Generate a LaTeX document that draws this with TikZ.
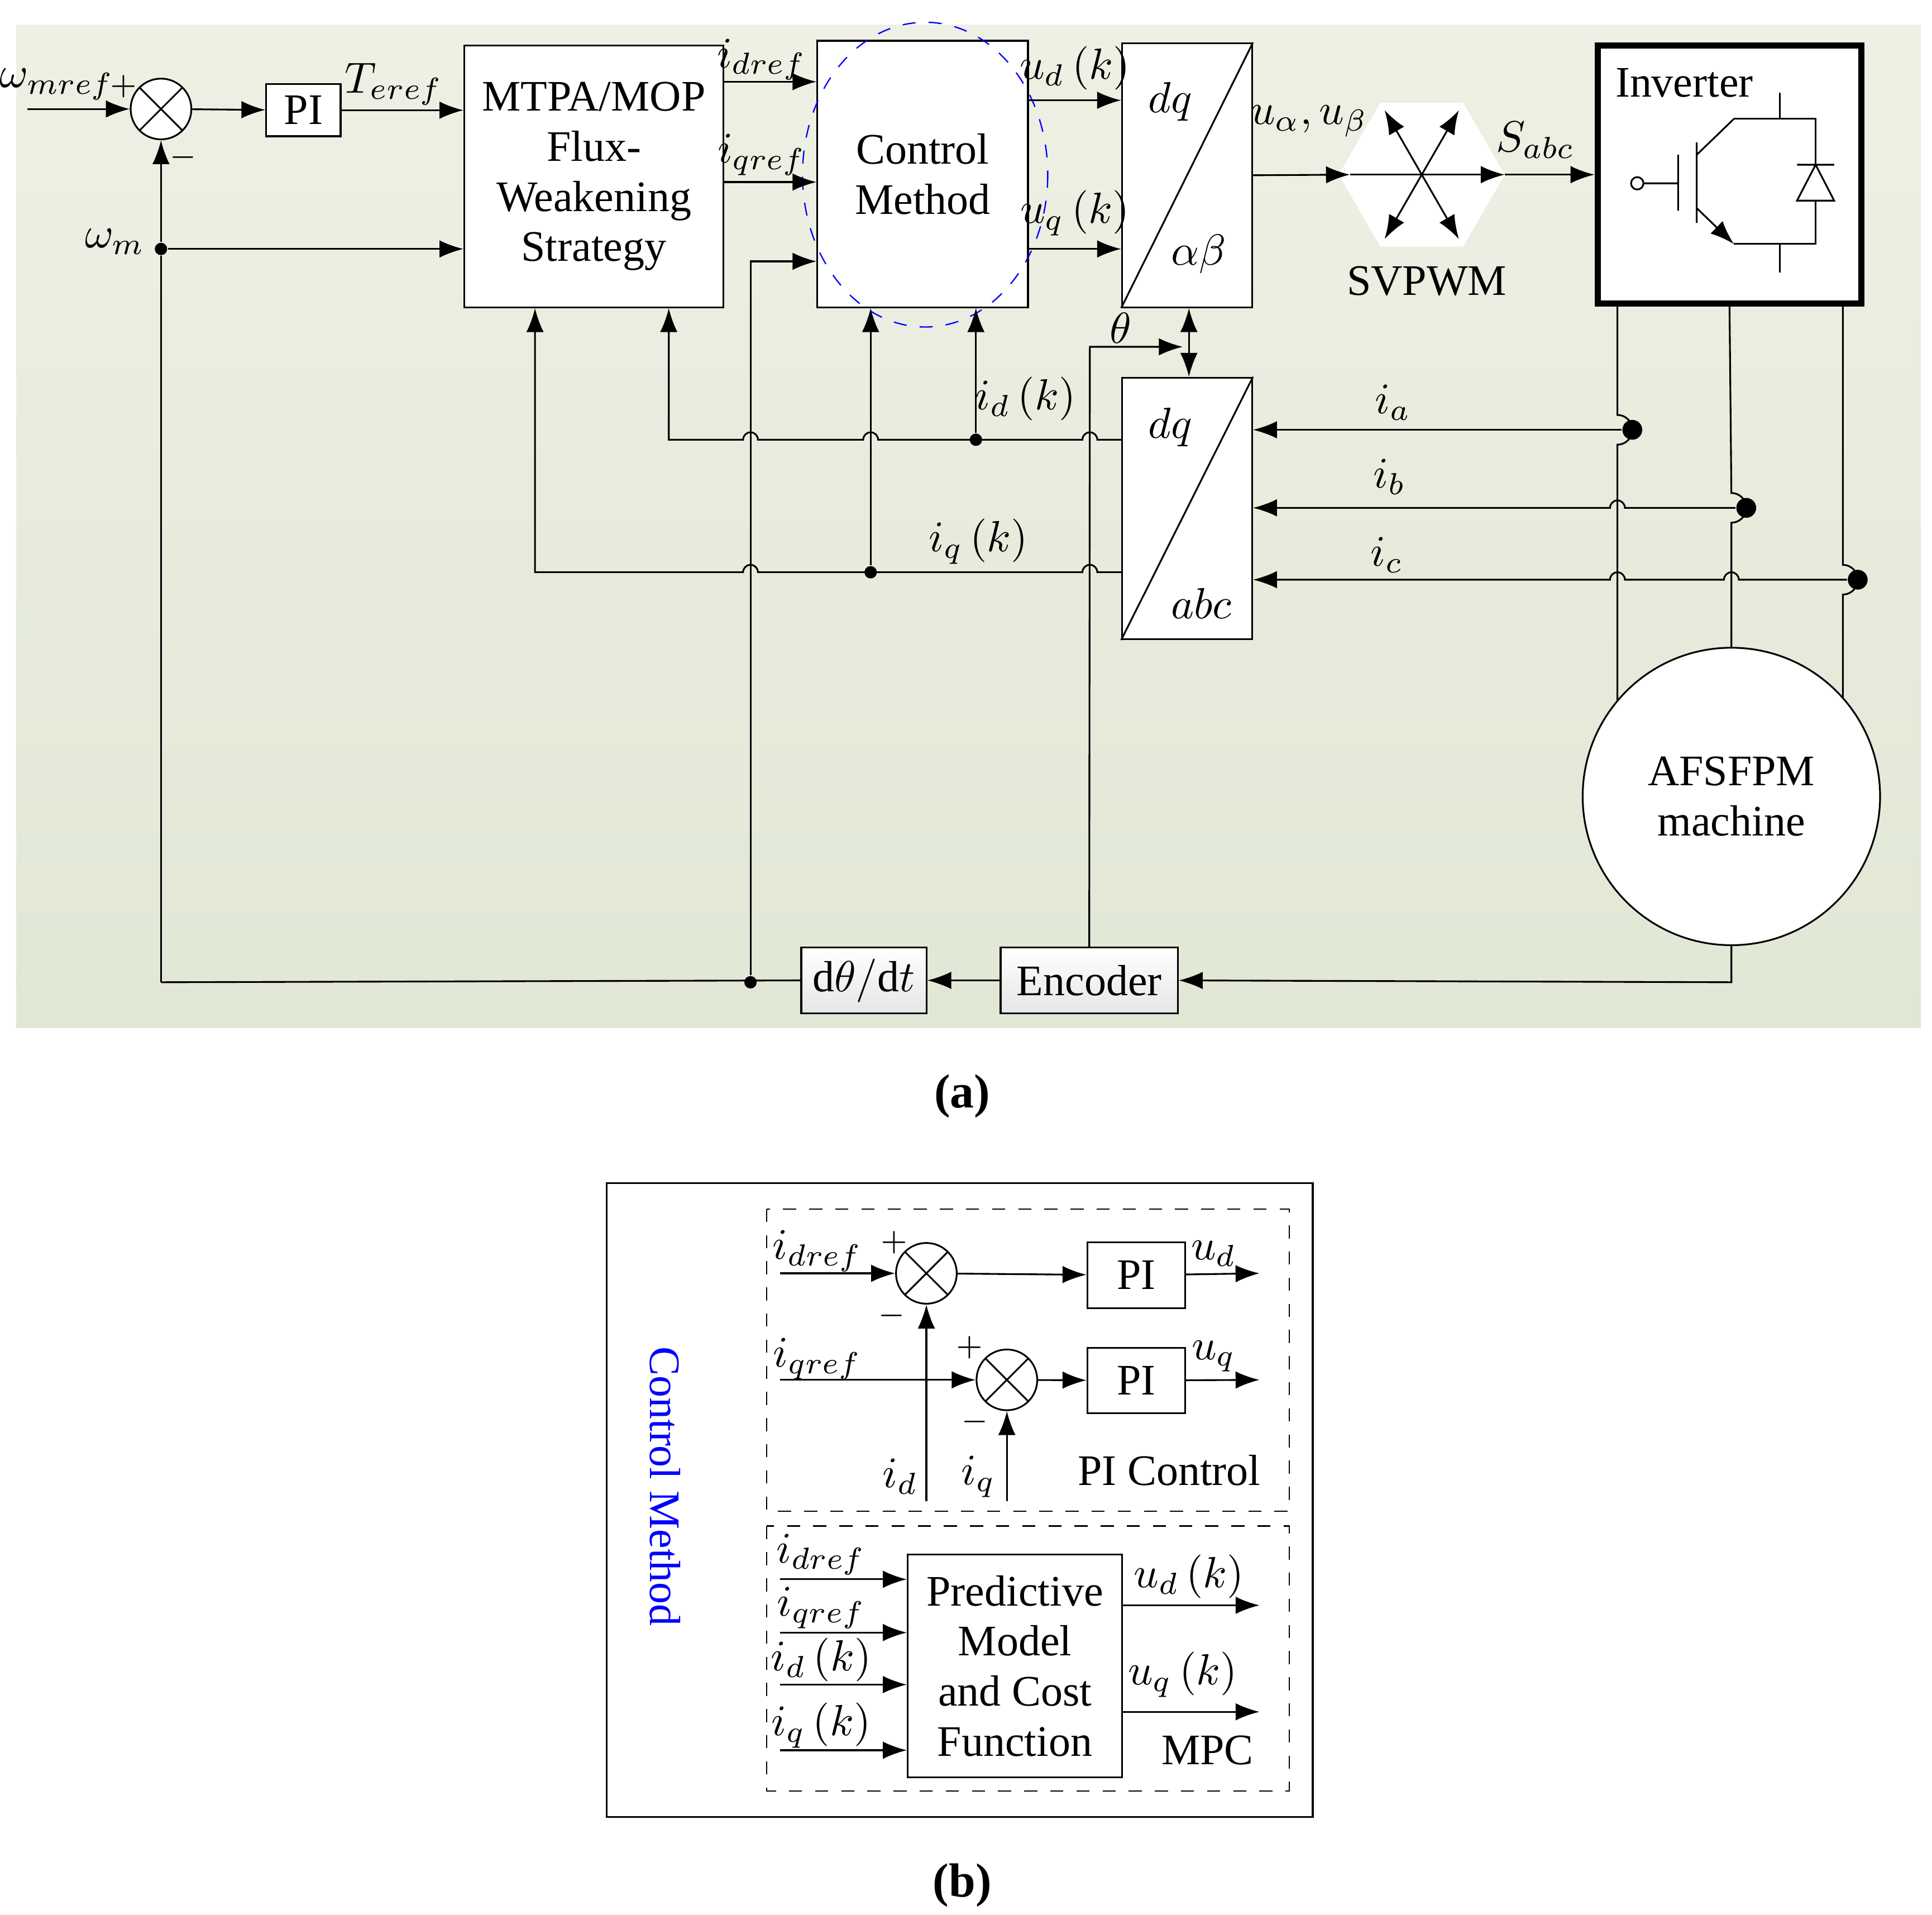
\documentclass[tikz,border=0pt]{standalone}
\usepackage{fontspec}
\setmainfont{Liberation Serif}
\usetikzlibrary{arrows.meta,calc}

\definecolor{bgtop}{RGB}{238,240,228}
\definecolor{bgbot}{RGB}{225,231,213}
\tikzset{
  blk/.style={draw,fill=white,inner sep=0pt,align=center},
  sum/.style={draw,fill=white,circle,minimum size=0.49cm,inner sep=0pt,path picture={
      \draw (path picture bounding box.north west)--(path picture bounding box.south east)
            (path picture bounding box.north east)--(path picture bounding box.south west);}},
  dot/.style={fill,circle,inner sep=0pt,minimum size=0.1cm},
  bigdot/.style={fill,circle,inner sep=0pt,minimum size=0.16cm},
  lbl/.style={inner sep=1pt},
}

\begin{document}
\begin{tikzpicture}[x=0.01cm,y=-0.01cm,line width=0.4pt,>={Latex[length=5.5pt,width=4pt]},
  font=\fontsize{10}{11.5}\selectfont]
\useasboundingbox (0,0) rectangle (1560,1546);
\shade[top color=bgtop,bottom color=bgbot] (13,20) rectangle (1551,830);

% part (a) blocks
\node[sum] (s1) at (130,88) {};
\node[blk,minimum width=0.60cm,minimum height=0.42cm] (pi1) at (245,89) {PI};
\node[blk,minimum width=2.09cm,minimum height=2.11cm] (mtpa) at (479.5,142.5) {MTPA/MOP\\Flux-\\Weakening\\Strategy};
\node[blk,minimum width=1.70cm,minimum height=2.15cm] (ctrl) at (745,140.5) {Control\\Method};
\draw[blue,dashed,line width=0.3pt] (747,141) ellipse[x radius=99,y radius=123];
\node[blk,minimum width=1.05cm,minimum height=2.13cm] (dqab) at (958.5,141.5) {};
\draw (dqab.north east) -- (dqab.south west);
\node[blk,minimum width=1.05cm,minimum height=2.11cm] (dqabc) at (958.5,410.5) {};
\draw (dqabc.north east) -- (dqabc.south west);
\node[blk,line width=1.4pt,minimum width=2.13cm,minimum height=2.08cm] (inv) at (1396.5,141) {};
\node[blk,top color=white,bottom color=gray!20,minimum width=1.43cm,minimum height=0.53cm] (enc) at (879.5,791.5) {Encoder};
\node[blk,top color=white,bottom color=gray!20,minimum width=1.01cm,minimum height=0.53cm] (ddt) at (697.5,791.5) {$\mathrm{d}\theta/\mathrm{d}t$};
\node[draw,fill=white,circle,minimum size=2.4cm,align=center] (mach) at (1398,643) {AFSFPM\\machine};

% svpwm
\coordinate (sv) at (1148,141);
\fill[white] (1215,141)--(1181.5,83)--(1114.5,83)--(1081,141)--(1114.5,199)--(1181.5,199)--cycle;
\draw[<->] (1118,89) -- (1178,193);
\draw[<->] (1178,89) -- (1118,193);
\draw[->] (1090,141) -- (1215,141);
\node at (1152,227) {SVPWM};

% inverter switch
\draw (1437,75)--(1437,96) (1400,96)--(1466,96)--(1466,197)--(1400,197) (1437,197)--(1437,220);
\draw (1400,96)--(1370,125) (1370,115)--(1370,180) (1355,125)--(1355,170) (1327,148)--(1355,148);
\draw[->] (1370,168)--(1400,197);
\draw (1322,148) circle[radius=5];
\fill[white] (1451,162)--(1481,162)--(1466,133)--cycle;
\draw (1451,162)--(1481,162)--(1466,133)--cycle (1451,133)--(1481,133);
\node[lbl] at (1360,67) {Inverter};

% labels (a)
\node[lbl] at (46,68) {$\omega_{mref}$};
\node[lbl,font=\scriptsize] at (100,70) {$+$};
\node[lbl,font=\scriptsize] at (148,127) {$-$};
\node[lbl] at (318,68) {$T_{eref}$};
\node[lbl] at (93,195) {$\omega_{m}$};
\node[lbl] at (615,48) {$i_{dref}$};
\node[lbl] at (615,125) {$i_{qref}$};
\node[lbl] at (868,55) {$u_d\,(k)$};
\node[lbl] at (868,172) {$u_q\,(k)$};
\node[lbl] at (945,82) {$dq$};
\node[lbl] at (968,205) {$\alpha\beta$};
\node[lbl] at (945,345) {$dq$};
\node[lbl] at (970,487) {$abc$};
\node[lbl] at (1057,98) {$u_\alpha,u_\beta$};
\node[lbl] at (1240,113) {$S_{abc}$};
\node[lbl] at (905,265) {$\theta$};
\node[lbl] at (828,322) {$i_d\,(k)$};
\node[lbl] at (790,437) {$i_q\,(k)$};
\node[lbl] at (1125,325) {$i_a$};
\node[lbl] at (1122,385) {$i_b$};
\node[lbl] at (1120,448) {$i_c$};

% connectors (a)
\draw[->] (22,88) -- (s1);
\draw[->] (s1) -- (pi1);
\draw[->] (pi1) -- (mtpa.west |- pi1);
\node[dot] (wm) at (130,201) {};
\draw[->] (wm) -- (mtpa.west |- wm);
\draw[->] (130,793) -- (wm) -- (s1);
\draw[->] (mtpa.east |- 0,66) -- (ctrl.west |- 0,66);
\draw[->] (mtpa.east |- 0,147) -- (ctrl.west |- 0,147);
\node[dot] (wd) at (606,793) {};
\draw[->] (wd) -- (606,211) -- (ctrl.west |- 0,211);
\draw[->] (ctrl.east |- 0,81) -- (dqab.west |- 0,81);
\draw[->] (ctrl.east |- 0,201) -- (dqab.west |- 0,201);
\draw[->] (dqab.east) -- (1090,141);
\draw[->] (1215,141) -- (inv.west);
\draw[<->] (dqab.south -| 960,0) -- (dqabc.north -| 960,0);
\draw[->] (enc.north) -- (880,280) -- (955,280);
\draw (ddt.west) -- (130,793);
\draw[->] (enc) -- (ddt);
\draw[->] (mach.south) -- (1398,793) -- (enc.east);

% feedback id, iq with hops
\node[dot] (idk) at (788,355) {};
\node[dot] (iqk) at (703,462) {};
\draw[->] (dqabc.west |- 0,355) -- (886,355) arc[start angle=0,end angle=-180,radius=6]
  -- (709,355) arc[start angle=0,end angle=-180,radius=6]
  -- (612,355) arc[start angle=0,end angle=-180,radius=6]
  -- (540,355) -- (mtpa.south -| 540,0);
\draw[->] (dqabc.west |- 0,462) -- (886,462) arc[start angle=0,end angle=-180,radius=6]
  -- (612,462) arc[start angle=0,end angle=-180,radius=6]
  -- (432,462) -- (mtpa.south -| 432,0);
\draw[->] (idk) -- (ctrl.south -| idk);
\draw[->] (iqk) -- (ctrl.south -| iqk);

% phase lines with bumps
\coordinate (pa) at (1306,566);
\coordinate (pc) at (1488,564);
\draw (inv.south -| pa) -- (1306,335) arc[start angle=-90,end angle=90,radius=12] -- (pa);
\draw (inv.south) -- (1398,398) arc[start angle=-90,end angle=90,radius=12] -- (mach.north);
\draw (inv.south -| pc) -- (1488,456) arc[start angle=-90,end angle=90,radius=12] -- (pc);
\node[bigdot] (ia) at (1318,347) {};
\node[bigdot] (ib) at (1410,410) {};
\node[bigdot] (ic) at (1500,468) {};
\draw[->] (ia) -- (dqabc.east |- ia);
\draw[->] (ib) -- (1312,410) arc[start angle=0,end angle=-180,radius=6] -- (dqabc.east |- ib);
\draw[->] (ic) -- (1404,468) arc[start angle=0,end angle=-180,radius=6]
  -- (1312,468) arc[start angle=0,end angle=-180,radius=6] -- (dqabc.east |- ic);

\node[font=\bfseries\fontsize{11}{13}\selectfont] at (777,885) {(a)};

% part (b)
\draw (490,955) rectangle (1060,1467);
\node[blue,rotate=-90] at (537,1200) {Control Method};
\draw[dashed,line width=0.3pt] (619,976) rectangle (1041,1220);
\draw[dashed,line width=0.3pt] (619,1232) rectangle (1041,1446);
\node[sum] (s2) at (748,1028) {};
\node[sum] (s3) at (813,1114) {};
\node[blk,minimum width=0.79cm,minimum height=0.53cm] (pid) at (917.5,1029.5) {PI};
\node[blk,minimum width=0.79cm,minimum height=0.53cm] (piq) at (917.5,1114.5) {PI};
\draw[->] (630,1028) -- (s2);
\draw[->] (s2) -- (pid);
\draw[->] (pid) -- (1017,1028);
\draw[->] (630,1114) -- (s3);
\draw[->] (s3) -- (piq);
\draw[->] (piq) -- (1017,1114);
\draw[->] (748,1212) -- (s2);
\draw[->] (813,1212) -- (s3);
\node[lbl] at (660,1010) {$i_{dref}$};
\node[lbl] at (660,1097) {$i_{qref}$};
\node[lbl,font=\scriptsize] at (722,1003) {$+$};
\node[lbl,font=\scriptsize] at (720,1062) {$-$};
\node[lbl,font=\scriptsize] at (783,1088) {$+$};
\node[lbl,font=\scriptsize] at (787,1148) {$-$};
\node[lbl] at (980,1012) {$u_d$};
\node[lbl] at (980,1095) {$u_q$};
\node[lbl] at (727,1192) {$i_d$};
\node[lbl] at (790,1192) {$i_q$};
\node[lbl] at (944,1187) {PI Control};

\node[blk,minimum width=1.73cm,minimum height=1.80cm] (mpc) at (819.5,1345) {Predictive\\Model\\and Cost\\Function};
\foreach \yy/\txt in {1275/i_{dref},1318/i_{qref},1360/i_d\,(k),1413/i_q\,(k)}{
  \draw[->] (630,\yy) -- (mpc.west |- 0,\yy);
  \node[lbl] at (663,\yy-20) {$\txt$};
}
\draw[->] (mpc.east |- 0,1296) -- (1017,1296);
\draw[->] (mpc.east |- 0,1382) -- (1017,1382);
\node[lbl] at (960,1273) {$u_d\,(k)$};
\node[lbl] at (955,1352) {$u_q\,(k)$};
\node[lbl] at (975,1413) {MPC};

\node[font=\bfseries\fontsize{11}{13}\selectfont] at (777,1522) {(b)};
\end{tikzpicture}
\end{document}
